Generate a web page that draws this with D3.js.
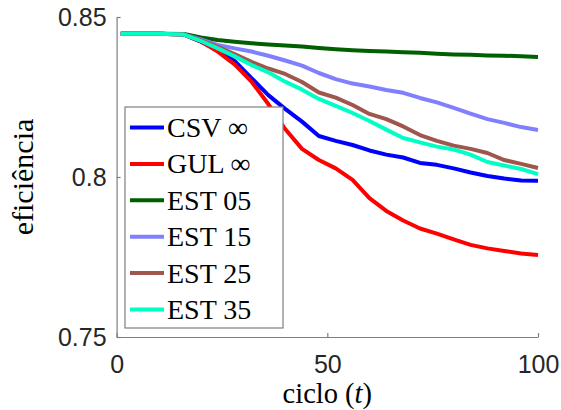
<!DOCTYPE html>
<html>
<head>
<meta charset="utf-8">
<script src="https://cdn.jsdelivr.net/npm/d3@7"></script>
<style>
  body { margin: 0; background: #fff; }
  svg { display: block; }
</style>
</head>
<body>
<div id="chart"></div>
<script>
'use strict';

/*****************************Chart data************************************/

var cycles = [1, 10, 16, 20, 24, 28, 32, 36, 40, 44, 48, 52, 56, 60, 64, 68, 72, 76, 80, 84, 88, 92, 96, 100];

var csvInf = [0.8448, 0.8448, 0.8445, 0.8423, 0.8396, 0.8363, 0.8309, 0.8256, 0.8213, 0.8173, 0.8128, 0.8113,
              0.8100, 0.8083, 0.8070, 0.8061, 0.8044, 0.8038, 0.8027, 0.8014, 0.8003, 0.7995, 0.7989, 0.7988];
var gulInf = [0.8448, 0.8448, 0.8445, 0.8424, 0.8392, 0.8352, 0.8298, 0.8228, 0.8150, 0.8088, 0.8053, 0.8027,
              0.7991, 0.7934, 0.7894, 0.7864, 0.7839, 0.7823, 0.7805, 0.7788, 0.7777, 0.7769, 0.7761, 0.7756];
var est05 = [0.8448, 0.8448, 0.8447, 0.8436, 0.8428, 0.8423, 0.8418, 0.8414, 0.8411, 0.8408, 0.8403, 0.8399,
             0.8396, 0.8394, 0.8392, 0.8390, 0.8388, 0.8385, 0.8383, 0.8382, 0.8380, 0.8379, 0.8377, 0.8375];
var est15 = [0.8448, 0.8448, 0.8445, 0.8430, 0.8413, 0.8402, 0.8392, 0.8379, 0.8364, 0.8348, 0.8325, 0.8306,
             0.8292, 0.8283, 0.8272, 0.8263, 0.8247, 0.8233, 0.8216, 0.8198, 0.8181, 0.8169, 0.8156, 0.8147];
var est25 = [0.8448, 0.8448, 0.8445, 0.8427, 0.8407, 0.8384, 0.8360, 0.8339, 0.8322, 0.8297, 0.8264, 0.8248,
             0.8225, 0.8197, 0.8181, 0.8158, 0.8131, 0.8113, 0.8098, 0.8088, 0.8075, 0.8053, 0.8041, 0.8028];
var est35 = [0.8448, 0.8448, 0.8445, 0.8425, 0.8402, 0.8377, 0.8350, 0.8327, 0.8298, 0.8273, 0.8244, 0.8222,
             0.8200, 0.8175, 0.8148, 0.8122, 0.8108, 0.8095, 0.8086, 0.8070, 0.8047, 0.8036, 0.8025, 0.8009];

var seriesNames = ["CSV \u221E", "GUL \u221E", "EST 05", "EST 15", "EST 25", "EST 35"];
var seriesValues = [csvInf, gulInf, est05, est15, est25, est35];
var seriesColors = ["#0000ff", "#ff0000", "#005f00", "#8080ff", "#a0554d", "#00ffc4"];

var xTicks = [0, 50, 100];
var yTicks = [0.75, 0.8, 0.85];
var yTickLabels = ["0.75", "0.8", "0.85"];

/*****************************Dimensions************************************/

var width = 561;
var height = 410;
var plotLeft = 116.6;
var plotRight = 538;
var plotTop = 17;
var plotBottom = 337;

var axisColor = "#7f7f7f";
var tickTextColor = "#262626";

var svg = d3.select("#chart").append("svg")
  .attr("width", width)
  .attr("height", height);

var x = d3.scaleLinear().domain([0, 100]).range([plotLeft, plotRight]);
var y = d3.scaleLinear().domain([0.75, 0.85]).range([plotBottom, plotTop]);

/*******************************Curves**************************************/

var line = d3.line()
  .x(function(d) { return x(d[0]); })
  .y(function(d) { return y(d[1]); });

var curves = svg.append("g").attr("class", "curves");

for (var i = 0; i < seriesValues.length; i++) {
  var pts = cycles.map(function(t, j) { return [t, seriesValues[i][j]]; });
  curves.append("path")
    .datum(pts)
    .attr("d", line)
    .attr("fill", "none")
    .attr("stroke", seriesColors[i])
    .attr("stroke-width", 4)
    .attr("stroke-linejoin", "round");
}

/********************************Axes***************************************/

var xAxis = svg.append("g")
  .attr("transform", "translate(0," + plotBottom + ")")
  .call(d3.axisBottom(x).tickValues(xTicks).tickSizeInner(-4).tickSizeOuter(0).tickPadding(18));

var yAxis = svg.append("g")
  .attr("transform", "translate(" + plotLeft + ",0)")
  .call(d3.axisLeft(y).tickValues(yTicks).tickSizeInner(-4).tickSizeOuter(0).tickPadding(10)
    .tickFormat(function(d, k) { return yTickLabels[k]; }));

[xAxis, yAxis].forEach(function(ax) {
  ax.select(".domain").attr("stroke", axisColor).attr("stroke-width", 1.2);
  ax.selectAll(".tick line").attr("stroke", axisColor).attr("stroke-width", 1.2);
  ax.selectAll(".tick text")
    .attr("fill", tickTextColor)
    .style("font-family", "'Liberation Sans', Arial, sans-serif")
    .style("font-size", "25px");
});

/*****************************Axis labels***********************************/

var xLabel = svg.append("text")
  .attr("x", (plotLeft + plotRight) / 2)
  .attr("y", 403)
  .attr("text-anchor", "middle")
  .style("font-family", "'Liberation Serif', 'Times New Roman', serif")
  .style("font-size", "28.5px");
xLabel.append("tspan").text("ciclo (");
xLabel.append("tspan").style("font-style", "italic").text("t");
xLabel.append("tspan").text(")");

svg.append("text")
  .attr("transform", "translate(33," + ((plotTop + plotBottom) / 2) + ") rotate(-90)")
  .attr("text-anchor", "middle")
  .style("font-family", "'Liberation Serif', 'Times New Roman', serif")
  .style("font-size", "30px")
  .text("efici\u00EAncia");

/*******************************Legend**************************************/

var legendX = 125, legendY = 107, legendW = 158, legendH = 221;
var rowStart = 127.5, rowStep = 36.4;

var legend = svg.append("g").attr("class", "legend");

legend.append("rect")
  .attr("x", legendX).attr("y", legendY)
  .attr("width", legendW).attr("height", legendH)
  .attr("fill", "#fff")
  .attr("stroke", axisColor)
  .attr("stroke-width", 1.2);

seriesNames.forEach(function(name, k) {
  var cy = rowStart + k * rowStep;
  legend.append("line")
    .attr("x1", 130).attr("x2", 164)
    .attr("y1", cy).attr("y2", cy)
    .attr("stroke", seriesColors[k])
    .attr("stroke-width", 4);
  legend.append("text")
    .attr("x", 167)
    .attr("y", cy)
    .attr("dy", "0.34em")
    .style("font-family", "'Liberation Serif', 'Times New Roman', serif")
    .style("font-size", "28px")
    .text(name);
});
</script>
</body>
</html>
